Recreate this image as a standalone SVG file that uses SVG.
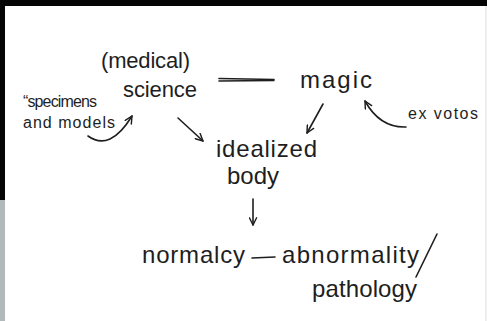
<svg xmlns="http://www.w3.org/2000/svg" width="487" height="321" viewBox="0 0 487 321">
<style>
.t{font-family:"Liberation Sans","DejaVu Sans",sans-serif;font-size:22px;fill:#1e1e1e}
.b{font-size:24px}
.s{font-size:16px}
.c{fill:none;stroke:#1e1e1e;stroke-width:1.6;stroke-linecap:round;stroke-linejoin:round}
</style>
<defs>
<marker id="ah" viewBox="0 0 10 10" refX="9" refY="5" markerWidth="9" markerHeight="9" markerUnits="userSpaceOnUse" orient="auto">
<path d="M1,1 L9,5 L1,9" fill="none" stroke="#1e1e1e" stroke-width="1.6" stroke-linecap="round" stroke-linejoin="round"/>
</marker>
</defs>
<rect x="0" y="0" width="487" height="321" fill="#ffffff"/>
<rect x="0" y="0" width="487" height="6" fill="#050505"/>
<rect x="0" y="0" width="5" height="200" fill="#050505"/>
<rect x="0" y="200" width="5" height="121" fill="#b3b8b8"/>
<rect x="485" y="6" width="2" height="315" fill="#eeeeee"/>

<g id="science"><text class="t" x="101" y="68" textLength="89" lengthAdjust="spacing">(medical)</text><text class="t" x="123" y="97" textLength="74" lengthAdjust="spacing">science</text></g>
<g id="magic"><text class="t b" x="300" y="88" textLength="72" lengthAdjust="spacing">magic</text></g>
<g id="specimens"><text class="t s" x="23" y="107" textLength="74" lengthAdjust="spacing">“specimens</text><text class="t s" x="23" y="128" textLength="92" lengthAdjust="spacing">and models</text></g>
<g id="exvotos"><text class="t s" x="408" y="119" textLength="70" lengthAdjust="spacing">ex votos</text></g>
<g id="idealized"><text class="t b" x="216" y="157" textLength="101" lengthAdjust="spacing">idealized</text><text class="t b" x="227" y="184" textLength="52" lengthAdjust="spacing">body</text></g>
<g id="normalcy"><text class="t b" x="142" y="263" textLength="103" lengthAdjust="spacing">normalcy</text></g>
<g id="abnormality"><text class="t b" x="282" y="263" textLength="137" lengthAdjust="spacing">abnormality</text><text class="t b" x="312" y="297" textLength="105" lengthAdjust="spacing">pathology</text></g>

<g id="connectors">
<path class="c" d="M219,78.5 L274,79.5 M219,81 L274,80.5" stroke-width="2.4"/>
<path class="c" d="M178,118 L203,141" marker-end="url(#ah)"/>
<path class="c" d="M323,104 L307,133" marker-end="url(#ah)"/>
<path class="c" d="M88,136 Q110,152 132,116" marker-end="url(#ah)"/>
<path class="c" d="M406,127 Q380,128 365,101" marker-end="url(#ah)"/>
<path class="c" d="M253,199 L253,225" marker-end="url(#ah)"/>
<path class="c" d="M252,258 L275,257"/>
<path class="c" d="M437,234 L416,277" stroke-width="1.2"/>
</g>
</svg>
